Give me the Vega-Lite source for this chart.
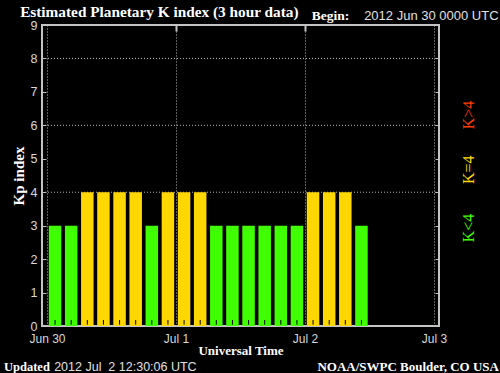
{
  "$schema": "https://vega.github.io/schema/vega-lite/v6.json",
  "autosize": {"type": "none"},
  "width": 397,
  "height": 301,
  "padding": {"left": 42, "top": 25, "right": 61, "bottom": 47},
  "background": "#000000",
  "config": {
    "view": {"stroke": "#c4c4c4", "strokeWidth": 2},
    "axis": {"domain": false, "grid": false}
  },
  "datasets": {
    "kp": [
      {"t": "2012-06-30T01:30:00Z", "kp": 3},
      {"t": "2012-06-30T04:30:00Z", "kp": 3},
      {"t": "2012-06-30T07:30:00Z", "kp": 4},
      {"t": "2012-06-30T10:30:00Z", "kp": 4},
      {"t": "2012-06-30T13:30:00Z", "kp": 4},
      {"t": "2012-06-30T16:30:00Z", "kp": 4},
      {"t": "2012-06-30T19:30:00Z", "kp": 3},
      {"t": "2012-06-30T22:30:00Z", "kp": 4},
      {"t": "2012-07-01T01:30:00Z", "kp": 4},
      {"t": "2012-07-01T04:30:00Z", "kp": 4},
      {"t": "2012-07-01T07:30:00Z", "kp": 3},
      {"t": "2012-07-01T10:30:00Z", "kp": 3},
      {"t": "2012-07-01T13:30:00Z", "kp": 3},
      {"t": "2012-07-01T16:30:00Z", "kp": 3},
      {"t": "2012-07-01T19:30:00Z", "kp": 3},
      {"t": "2012-07-01T22:30:00Z", "kp": 3},
      {"t": "2012-07-02T01:30:00Z", "kp": 4},
      {"t": "2012-07-02T04:30:00Z", "kp": 4},
      {"t": "2012-07-02T07:30:00Z", "kp": 4},
      {"t": "2012-07-02T10:30:00Z", "kp": 3}
    ],
    "levels": [{"g": 4}, {"g": 6}, {"g": 8}],
    "one": [{}]
  },
  "resolve": {"axis": {"x": "independent", "y": "independent"}},
  "layer": [
    {
      "data": {"name": "levels"},
      "mark": {"type": "rule", "color": "#bbbbbb", "strokeDash": [1, 2], "strokeWidth": 1},
      "encoding": {
        "y": {"field": "g", "type": "quantitative", "scale": {"domain": [0, 9], "nice": false}, "axis": null}
      }
    },
    {
      "data": {"name": "kp"},
      "mark": {"type": "bar", "width": 12.5},
      "encoding": {
        "x": {
          "field": "t", "type": "temporal",
          "scale": {"type": "utc", "domain": [
            {"year": 2012, "month": "jun", "date": 30, "utc": true},
            {"year": 2012, "month": "jul", "date": 3, "utc": true}
          ]},
          "axis": {
            "orient": "bottom",
            "values": [
              {"year": 2012, "month": "jun", "date": 30, "utc": true},
              {"year": 2012, "month": "jul", "date": 1, "utc": true},
              {"year": 2012, "month": "jul", "date": 2, "utc": true},
              {"year": 2012, "month": "jul", "date": 3, "utc": true}
            ],
            "format": "%b %-d",
            "labelColor": "#d8d8d8", "labelFont": "Liberation Sans", "labelFontSize": 12,
            "labelPadding": 7,
            "ticks": false,
            "grid": true, "gridColor": "#bbbbbb", "gridDash": [1, 2], "gridWidth": 1,
            "title": "Universal Time", "titleColor": "#ffffff", "titleFont": "Liberation Serif",
            "titleFontSize": 13, "titleFontWeight": "bold", "titlePadding": 0
          }
        },
        "y": {
          "field": "kp", "type": "quantitative",
          "scale": {"domain": [0, 9], "nice": false},
          "axis": {
            "orient": "left",
            "values": [0, 1, 2, 3, 4, 5, 6, 7, 8, 9],
            "labelColor": "#d8d8d8", "labelFont": "Liberation Sans", "labelFontSize": 12.5,
            "labelPadding": 9,
            "tickColor": "#c4c4c4", "tickSize": -4,
            "grid": false,
            "title": "Kp index", "titleColor": "#ffffff", "titleFont": "Liberation Serif",
            "titleFontSize": 15, "titleFontWeight": "bold", "titlePadding": 4
          }
        },
        "color": {
          "condition": {"test": "datum.kp >= 4", "value": "#ffd700"},
          "value": "#40ff00"
        }
      }
    },
    {
      "data": {"name": "kp"},
      "mark": {"type": "rule", "color": "#000000", "strokeWidth": 1},
      "encoding": {
        "x": {
          "field": "t", "type": "temporal",
          "axis": {
            "orient": "top",
            "values": [
              {"year": 2012, "month": "jul", "date": 1, "utc": true},
              {"year": 2012, "month": "jul", "date": 2, "utc": true}
            ],
            "labels": false, "tickColor": "#c4c4c4", "tickSize": -6, "tickWidth": 2,
            "grid": false, "title": null
          }
        },
        "y": {
          "datum": 0.04, "type": "quantitative",
          "axis": {
            "orient": "right",
            "values": [1, 2, 3, 4, 5, 6, 7, 8],
            "labels": false, "tickColor": "#c4c4c4", "tickSize": -4,
            "grid": false, "title": null
          }
        },
        "y2": {"datum": 0.18}
      }
    },
    {
      "data": {"name": "one"},
      "mark": {"type": "text", "align": "left", "baseline": "middle", "font": "Liberation Serif", "fontSize": 15.3, "fontWeight": "bold", "color": "#ffffff", "text": "Estimated Planetary K index (3 hour data)"},
      "encoding": {
        "x": {"datum": {"year": 2012, "month": "jun", "date": 29, "hours": 19, "minutes": 0, "utc": true}, "type": "temporal", "axis": null},
        "y": {"datum": 9.39, "type": "quantitative", "axis": null}
      }
    },
    {
      "data": {"name": "one"},
      "mark": {"type": "text", "align": "left", "baseline": "middle", "font": "Liberation Serif", "fontSize": 13.5, "fontWeight": "bold", "color": "#ffffff", "text": "Begin:"},
      "encoding": {
        "x": {"datum": {"year": 2012, "month": "jul", "date": 2, "hours": 1, "minutes": 15, "utc": true}, "type": "temporal", "axis": null},
        "y": {"datum": 9.27, "type": "quantitative", "axis": null}
      }
    },
    {
      "data": {"name": "one"},
      "mark": {"type": "text", "align": "left", "baseline": "middle", "font": "Liberation Sans", "fontSize": 13, "color": "#e0e0e0", "text": "2012 Jun 30 0000 UTC"},
      "encoding": {
        "x": {"datum": {"year": 2012, "month": "jul", "date": 2, "hours": 11, "minutes": 0, "utc": true}, "type": "temporal", "axis": null},
        "y": {"datum": 9.27, "type": "quantitative", "axis": null}
      }
    },
    {
      "data": {"name": "one"},
      "mark": {"type": "text", "align": "left", "baseline": "middle", "font": "Liberation Serif", "fontSize": 12.5, "fontWeight": "bold", "color": "#ffffff", "text": "Updated"},
      "encoding": {
        "x": {"datum": {"year": 2012, "month": "jun", "date": 29, "hours": 16, "minutes": 0, "utc": true}, "type": "temporal", "axis": null},
        "y": {"datum": -1.226, "type": "quantitative", "axis": null}
      }
    },
    {
      "data": {"name": "one"},
      "mark": {"type": "text", "align": "left", "baseline": "middle", "font": "Liberation Sans", "fontSize": 12.5, "color": "#e0e0e0", "text": "2012 Jul \u00a02 12:30:06 UTC"},
      "encoding": {
        "x": {"datum": {"year": 2012, "month": "jun", "date": 30, "hours": 1, "minutes": 20, "utc": true}, "type": "temporal", "axis": null},
        "y": {"datum": -1.226, "type": "quantitative", "axis": null}
      }
    },
    {
      "data": {"name": "one"},
      "mark": {"type": "text", "align": "right", "baseline": "middle", "font": "Liberation Serif", "fontSize": 13, "fontWeight": "bold", "color": "#ffffff", "text": "NOAA/SWPC Boulder, CO USA"},
      "encoding": {
        "x": {"datum": {"year": 2012, "month": "jul", "date": 3, "hours": 12, "minutes": 5, "utc": true}, "type": "temporal", "axis": null},
        "y": {"datum": -1.226, "type": "quantitative", "axis": null}
      }
    },
    {
      "data": {"name": "one"},
      "mark": {"type": "text", "align": "center", "baseline": "middle", "angle": 270, "font": "Liberation Serif", "fontSize": 16, "color": "#ff3a00", "text": "K>4"},
      "encoding": {
        "x": {"datum": {"year": 2012, "month": "jul", "date": 3, "hours": 6, "minutes": 30, "utc": true}, "type": "temporal", "axis": null},
        "y": {"datum": 6.31, "type": "quantitative", "axis": null}
      }
    },
    {
      "data": {"name": "one"},
      "mark": {"type": "text", "align": "center", "baseline": "middle", "angle": 270, "font": "Liberation Serif", "fontSize": 16, "color": "#ffd700", "text": "K=4"},
      "encoding": {
        "x": {"datum": {"year": 2012, "month": "jul", "date": 3, "hours": 6, "minutes": 30, "utc": true}, "type": "temporal", "axis": null},
        "y": {"datum": 4.67, "type": "quantitative", "axis": null}
      }
    },
    {
      "data": {"name": "one"},
      "mark": {"type": "text", "align": "center", "baseline": "middle", "angle": 270, "font": "Liberation Serif", "fontSize": 16, "color": "#40ff00", "text": "K<4"},
      "encoding": {
        "x": {"datum": {"year": 2012, "month": "jul", "date": 3, "hours": 6, "minutes": 30, "utc": true}, "type": "temporal", "axis": null},
        "y": {"datum": 2.93, "type": "quantitative", "axis": null}
      }
    }
  ]
}
